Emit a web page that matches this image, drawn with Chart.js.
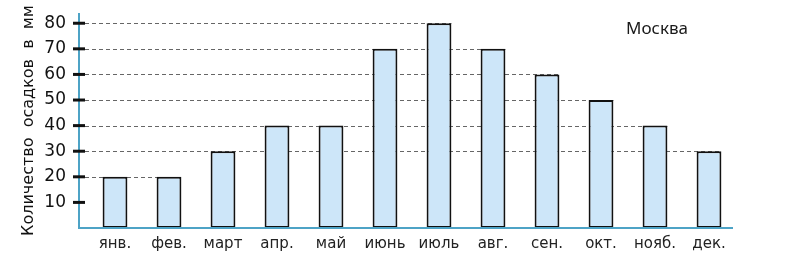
<!DOCTYPE html>
<html>
<head>
<meta charset="utf-8">
<script src="https://cdn.jsdelivr.net/npm/chart.js@4"></script>
<style>
    body { margin: 0; background: #fff; }
    #wrap { width: 785px; height: 266px; }
</style>
</head>
<body>
<div id="wrap"><canvas id="chart" width="785" height="266"></canvas></div>
<script>
// данные: осадки в Москве по месяцам (мм)
const months = ['янв.', 'фев.', 'март', 'апр.', 'май', 'июнь', 'июль', 'авг.', 'сен.', 'окт.', 'нояб.', 'дек.'];
const precipitation = [20, 20, 30, 40, 40, 70, 80, 70, 60, 50, 40, 30];
const yTicks = [10, 20, 30, 40, 50, 60, 70, 80];
const cityName = 'Москва';
const yTitle = 'Количество  осадков  в  мм';

const axisColor = '#4da3c6';

// оси, засечки и пунктирные линии рисуем сами
const decorPlugin = {
    id: 'decor',
    beforeDatasetsDraw(chart) {
        const ctx = chart.ctx;
        const y = chart.scales.y;
        const axisX = chart.chartArea.left - 9;
        ctx.save();
        ctx.strokeStyle = '#666';
        ctx.lineWidth = 1;
        ctx.setLineDash([4, 3]);
        yTicks.forEach(v => {
            const idx = precipitation.lastIndexOf(v);
            if (idx < 0) return;
            const bar = chart.getDatasetMeta(0).data[idx];
            const yy = Math.round(y.getPixelForValue(v)) + 0.5;
            ctx.beginPath();
            ctx.moveTo(axisX + 6, yy);
            ctx.lineTo(bar.x + bar.width / 2, yy);
            ctx.stroke();
        });
        ctx.restore();
    },
    afterDatasetsDraw(chart) {
        const ctx = chart.ctx;
        const y = chart.scales.y;
        const area = chart.chartArea;
        const axisX = area.left - 9;
        ctx.save();
        ctx.strokeStyle = axisColor;
        ctx.lineWidth = 2;
        ctx.beginPath();
        ctx.moveTo(axisX, area.top);
        ctx.lineTo(axisX, area.bottom);
        ctx.lineTo(area.right - 3, area.bottom);
        ctx.stroke();

        ctx.strokeStyle = '#111';
        ctx.lineWidth = 3;
        yTicks.forEach(v => {
            const yy = y.getPixelForValue(v);
            ctx.beginPath();
            ctx.moveTo(axisX - 6, yy);
            ctx.lineTo(axisX + 6, yy);
            ctx.stroke();
        });

        ctx.fillStyle = '#1a1a1a';
        ctx.font = '17px "Noto Sans"';
        ctx.textAlign = 'center';
        ctx.textBaseline = 'middle';
        ctx.fillText(cityName, 657, 29);
        ctx.restore();
    }
};

const ctx = document.getElementById('chart').getContext('2d');
new Chart(ctx, {
    type: 'bar',
    data: {
        labels: months,
        datasets: [{
            data: precipitation,
            backgroundColor: '#cde6f9',
            borderColor: '#111',
            borderWidth: 2,
            borderSkipped: false,
            categoryPercentage: 1,
            barPercentage: 0.46
        }]
    },
    options: {
        responsive: false,
        animation: false,
        layout: { padding: { top: 13, right: 49, bottom: 0, left: 0 } },
        plugins: {
            legend: { display: false },
            tooltip: { enabled: false }
        },
        scales: {
            x: {
                grid: { display: false, drawTicks: false },
                border: { display: false },
                afterFit(scale) {
                    scale.height = 38;
                    scale.paddingLeft = 0;
                    scale.paddingRight = 0;
                },
                ticks: {
                    color: '#222',
                    font: { family: 'DejaVu Sans', size: 15 },
                    padding: 7,
                    maxRotation: 0
                }
            },
            y: {
                min: 0,
                max: 84,
                grid: { display: false, drawTicks: false },
                border: { display: false },
                afterBuildTicks(scale) {
                    scale.ticks = yTicks.map(v => ({ value: v }));
                },
                afterFit(scale) {
                    scale.width = 88;
                    scale.paddingTop = 0;
                    scale.paddingBottom = 0;
                },
                ticks: {
                    color: '#111',
                    font: { family: 'DejaVu Sans', size: 17 },
                    padding: 22
                },
                title: {
                    display: true,
                    text: yTitle,
                    color: '#111',
                    font: { family: 'DejaVu Sans', size: 16 },
                    padding: { top: 19, bottom: 0 }
                }
            }
        }
    },
    plugins: [decorPlugin]
});
</script>
</body>
</html>
